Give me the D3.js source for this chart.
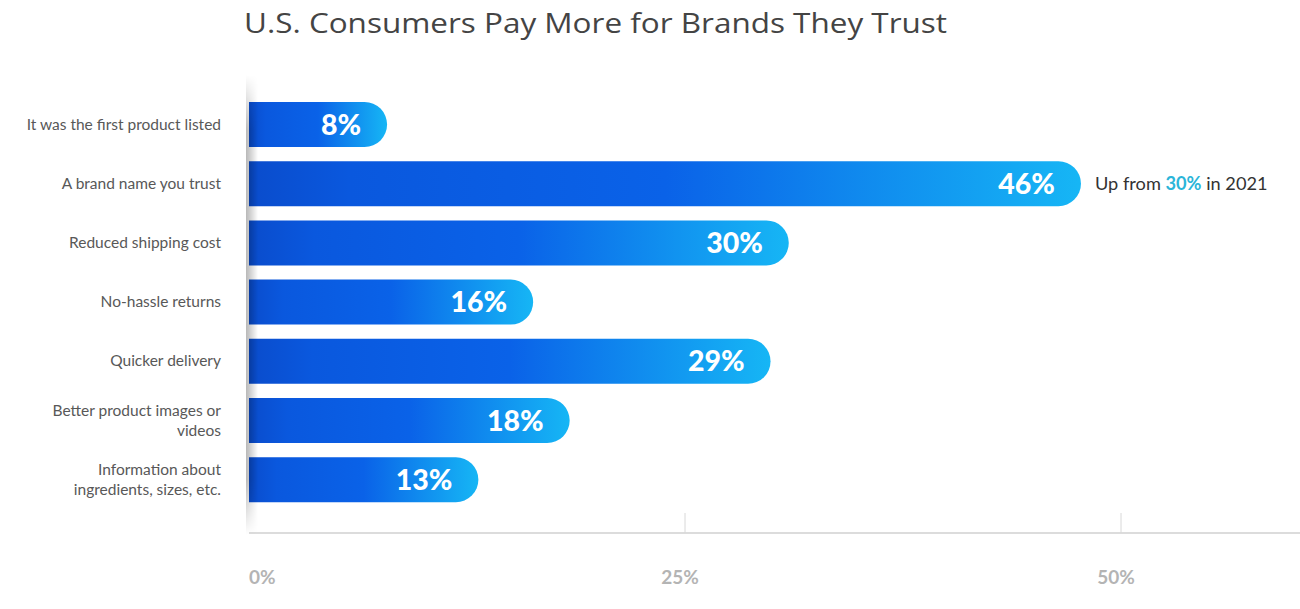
<!DOCTYPE html>
<html><head><meta charset="utf-8">
<script src="https://cdn.jsdelivr.net/npm/d3@7"></script>
<style>body{margin:0;background:#fff}svg{display:block}</style>
</head><body>
<svg id="c" width="1300" height="609"></svg>
<script>
const categories = [
  ["It was the first product listed"],
  ["A brand name you trust"],
  ["Reduced shipping cost"],
  ["No-hassle returns"],
  ["Quicker delivery"],
  ["Better product images or", "videos"],
  ["Information about", "ingredients, sizes, etc."]
];
const values = [8, 46, 30, 16, 29, 18, 13];
const tickValues = [0, 25, 50];
const title = "U.S. Consumers Pay More for Brands They Trust";
const note = ["Up from ", "30%", " in 2021"];

const svg = d3.select("#c");
const defs = svg.append("defs");
const grad = defs.append("linearGradient").attr("id","barg").attr("x1","0").attr("x2","1").attr("y1","0").attr("y2","0");
[[0,"#0a4ccc"],[0.12,"#0a58de"],[0.5,"#0a62e8"],[1,"#16b6f5"]].forEach(s=>grad.append("stop").attr("offset",s[0]).attr("stop-color",s[1]));
const sh = defs.append("linearGradient").attr("id","shg").attr("x1","0").attr("x2","1");
sh.append("stop").attr("offset",0).attr("stop-color","#000").attr("stop-opacity",0.28);
sh.append("stop").attr("offset",1).attr("stop-color","#000").attr("stop-opacity",0);
const mg = defs.append("linearGradient").attr("id","mg").attr("x1","0").attr("x2","0").attr("y1","0").attr("y2","1");
[[0,0],[0.12,1],[0.88,1],[1,0]].forEach(s=>mg.append("stop").attr("offset",s[0]).attr("stop-color","#fff").attr("stop-opacity",s[1]));
defs.append("mask").attr("id","msk").append("rect").attr("x",240).attr("y",75).attr("width",30).attr("height",460).attr("fill","url(#mg)");

const xBar = d3.scaleLinear().domain([0,50]).range([241, 1154]);
const xAxis = d3.scaleLinear().domain([0,50]).range([249, 1121]);
const y = d3.scaleBand().domain(d3.range(values.length)).range([94.9, 509.3]).paddingInner(0.24).paddingOuter(0.12);
const x0 = 249, r = y.bandwidth()/2;

svg.append("text").attr("x",244).attr("y",33).attr("font-family","Open Sans, sans-serif").attr("font-size",28)
  .attr("fill","#444").attr("textLength",703).attr("lengthAdjust","spacingAndGlyphs").text(title);

// axis
svg.append("line").attr("x1",x0).attr("x2",1300).attr("y1",533).attr("y2",533).attr("stroke","#dcdcdc").attr("stroke-width",2);
svg.selectAll(".grid").data(tickValues.filter(d=>d>0)).join("line")
  .attr("x1",d=>xAxis(d)).attr("x2",d=>xAxis(d)).attr("y1",513).attr("y2",533).attr("stroke","#d8d8d8");
svg.selectAll(".tl").data(tickValues).join("text")
  .attr("x",d=>d===0?xAxis(d):xAxis(d)-5).attr("y",584).attr("text-anchor",d=>d===0?"start":"middle")
  .attr("font-family","Lato, sans-serif").attr("font-weight",700).attr("font-size",19).attr("fill","#b4b4b4")
  .text(d=>d+"%");

// bars
const pill = (v,i)=>{
  const xe = xBar(v), t = y(i), b = t + y.bandwidth();
  return `M${x0},${t}H${xe-r}A${r},${r} 0 0 1 ${xe-r},${b}H${x0}Z`;
};
svg.selectAll(".bar").data(values).join("path").attr("d",(d,i)=>pill(d,i)).attr("fill","url(#barg)");
svg.selectAll(".vl").data(values).join("text")
  .attr("x",d=>xBar(d)-26).attr("y",(d,i)=>y(i)+r+10).attr("text-anchor","end")
  .attr("font-family","Lato, sans-serif").attr("font-weight",900).attr("font-size",28.5).attr("fill","#fff")
  .text(d=>d+"%");

// shadow
svg.append("rect").attr("x",246).attr("y",75).attr("width",12).attr("height",460).attr("fill","url(#shg)").attr("mask","url(#msk)");

// category labels
svg.selectAll(".cl").data(categories).join("text")
  .attr("text-anchor","end").attr("font-family","Lato, sans-serif").attr("font-size",15.5).attr("fill","#585858")
  .each(function(lines,i){
    const cy = y(i)+r;
    const n = lines.length;
    d3.select(this).selectAll("tspan").data(lines).join("tspan")
      .attr("x",221).attr("y",(l,j)=>cy + 5 + (j-(n-1)/2)*20).text(l=>l);
  });

// annotation
const ann = svg.append("text").attr("x",1095).attr("y",y(1)+r+6).attr("font-family","Lato, sans-serif").attr("font-size",18.2).attr("fill","#333");
ann.append("tspan").text(note[0]);
ann.append("tspan").attr("font-weight",700).attr("fill","#2bb5d9").text(note[1]);
ann.append("tspan").text(note[2]);
</script>
</body></html>
